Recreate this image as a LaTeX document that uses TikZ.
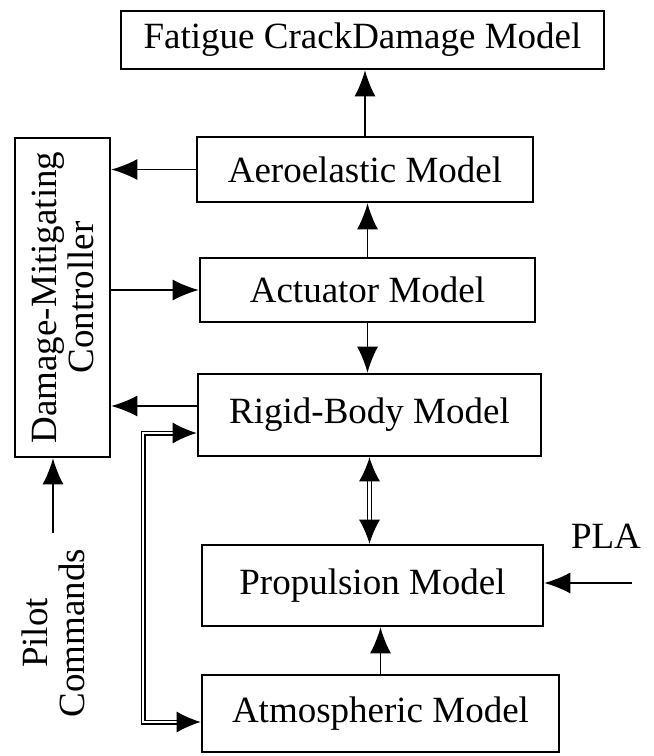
\documentclass[tikz,border=0pt]{standalone}
\usepackage{fontspec}
\setmainfont{Liberation Serif}
\usetikzlibrary{arrows.meta,calc}

\begin{document}
\begin{tikzpicture}[
  x=1pt, y=-1pt,
  font=\fontsize{37}{37}\selectfont,
  blk/.style={draw, line width=2.6pt, align=center, inner sep=0pt},
  ar/.style={-{Latex[length=26pt,width=21pt]}, line width=1.4pt},
  dbl/.style={{Latex[length=24pt,width=21pt]}-{Latex[length=24pt,width=21pt]},
              double, double distance=2.6pt, line width=1.2pt},
]
  \useasboundingbox (0,0) rectangle (654,756);

  % model chain
  \node[blk, minimum width=483pt, minimum height=58pt] (fatigue) at (362.5,40)
        {Fatigue CrackDamage Model};
  \node[blk, minimum width=336pt, minimum height=65pt] (aero) at (365,169.5)
        {Aeroelastic Model};
  \node[blk, minimum width=335pt, minimum height=64pt] (act) at (367.5,290)
        {Actuator Model};
  \node[blk, minimum width=343pt, minimum height=82pt] (rigid) at (369.5,415)
        {Rigid-Body Model};
  \node[blk, minimum width=341pt, minimum height=81pt] (prop) at (372.5,585.5)
        {Propulsion Model};
  \node[blk, minimum width=357pt, minimum height=77pt] (atmo) at (380.5,713.5)
        {Atmospheric Model};

  % controller
  \node[blk, rotate=90, minimum width=319pt, minimum height=95pt] (ctrl) at (62.5,297.5)
        {Damage-Mitigating\\Controller};

  % inputs
  \node[align=center, rotate=90] (pilot) at (53,633) {Pilot\\Commands};
  \node (pla) at (606,536) {PLA};
  \coordinate (pcmd) at (53,533);
  \coordinate (plain) at (632,583);
  \coordinate (bendtop) at (143,433);
  \coordinate (bendbot) at (143,722);

  \draw[ar] (aero.north) -- (aero.north |- fatigue.south);
  \draw[ar] (act.north) -- (act.north |- aero.south);
  \draw[ar] (act.south) -- (act.south |- rigid.north);
  \draw[ar] (atmo.north) -- (atmo.north |- prop.south);
  \draw[dbl] (rigid.south) -- (rigid.south |- prop.north);
  \draw[ar] (aero.west) -- (aero.west -| ctrl.south);
  \draw[ar] (act.west -| ctrl.south) -- (act.west);
  \draw[ar] ([yshift=9pt]rigid.west) -- ([yshift=9pt]rigid.west -| ctrl.south);
  \draw[dbl] (bendtop -| rigid.west) -- (bendtop) -- (bendbot) -- (bendbot -| atmo.west);
  \draw[ar] (plain) -- (plain -| prop.east);
  \draw[ar] (pcmd) -- (pcmd |- ctrl.west);
\end{tikzpicture}
\end{document}
